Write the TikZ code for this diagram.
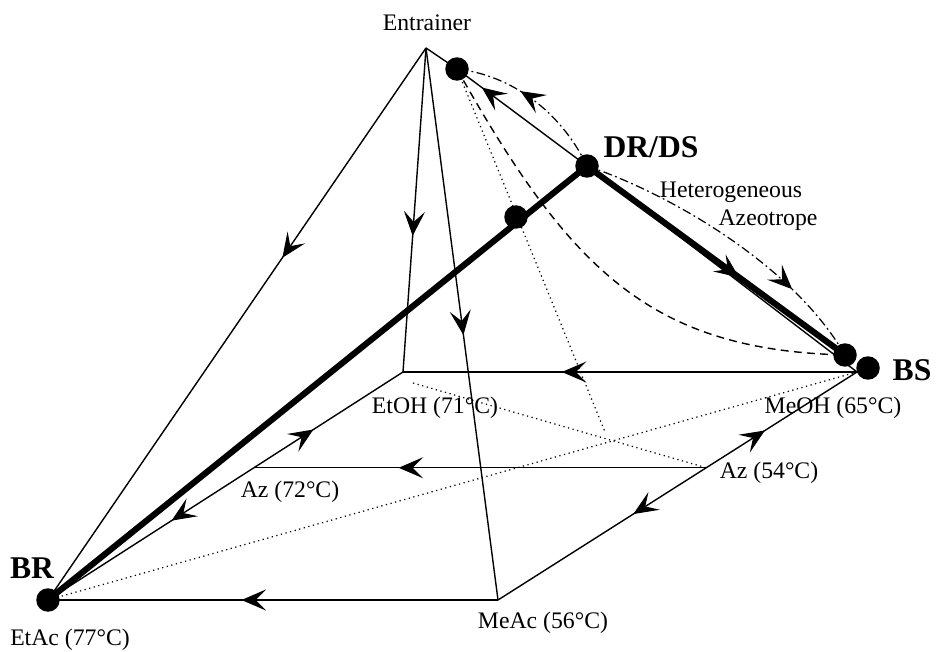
\documentclass[tikz,border=0pt]{standalone}
\usepackage{fontspec}
\setmainfont{Liberation Serif}
\usetikzlibrary{arrows.meta, calc, decorations.markings}

\begin{document}
\begin{tikzpicture}[
  x=0.02cm, y=-0.02cm,
  edge/.style={line width=0.8pt},
  tieline/.style={line width=3.5pt},
  dot/.style={circle, fill=black, inner sep=0pt, minimum size=0.47cm},
  note/.style={font=\fontsize{13.5}{15}\selectfont, inner sep=0pt},
  bigtag/.style={font=\fontsize{18}{20}\selectfont\bfseries, inner sep=0pt},
  midarrow/.style={postaction={decorate}, decoration={markings,
      mark=at position #1 with {\arrow{Stealth[length=14pt, width=12pt, inset=6pt, line width=0.6pt]}}}},
  boundary/.style={line width=0.8pt, dash pattern=on 4.5pt off 3pt},
  envelope/.style={line width=0.7pt, dash pattern=on 5pt off 2pt on 1pt off 2pt},
  ruled/.style={line width=0.7pt, dotted},
]
\useasboundingbox (0,0) rectangle (937,652);

% Corners of the pyramid
\coordinate (E) at (426,48);
\coordinate (EtAc) at (48,600);
\coordinate (MeAc) at (498,600);
\coordinate (MeOH) at (857,372);
\coordinate (EtOH) at (403,372);
\coordinate (Az72) at ($(EtAc)!0.58!(EtOH)$);
\coordinate (Az54) at ($(MeAc)!0.58!(MeOH)$);

% Points on the column profile
\coordinate (D1) at (457,69);
\coordinate (DRDS) at (587,166);
\coordinate (Mid) at (516,217);
\coordinate (D2) at (845,355);
\coordinate (BS) at (868,368);
\coordinate (Tip) at (605,432);
\coordinate (Dot0) at (413,383);

% Edges from the entrainer
\draw[edge, midarrow=0.38] (E) -- (EtAc);
\draw[edge, midarrow=0.58] (E) -- (EtOH);
\draw[edge, midarrow=0.52] (E) -- (MeAc);
\draw[edge] (E) -- (D1);
\draw[edge, midarrow=0.81] (DRDS) -- (D1);
\draw[edge] (DRDS) -- (MeOH);

% Base
\draw[edge, midarrow=0.57] (MeAc) -- (EtAc);
\draw[edge, midarrow=0.65] (MeOH) -- (EtOH);
\draw[edge, midarrow=0.68] (Az54) -- (Az72);
\draw[edge, midarrow=0.4] (Az72) -- (EtOH);
\draw[edge, midarrow=0.4] (Az72) -- (EtAc);
\draw[edge, midarrow=0.39] (Az54) -- (MeOH);
\draw[edge, midarrow=0.35] (Az54) -- (MeAc);

% Dotted lines
\draw[ruled] (EtAc) -- (MeOH);
\draw[ruled] (Dot0) -- (Az54);
\draw[ruled] (D1) -- (Tip);

% Distillation boundary
\draw[boundary] (D1) .. controls (570,270) and (650,350) .. (D2);

% Liquid-liquid envelope
\draw[envelope, midarrow=0.6] (DRDS) .. controls (560,110) and (510,75) .. (D1);
\draw[envelope, midarrow=0.74] (DRDS) .. controls (660,190) and (790,260) .. (D2);

% Column profile
\draw[tieline] (EtAc) -- (DRDS);
\draw[tieline, midarrow=0.59] (DRDS) -- (D2);

% Dots
\node[dot] (br) at (EtAc) {};
\node[dot] (d1) at (D1) {};
\node[dot] (drds) at (DRDS) {};
\node[dot] (mid) at (Mid) {};
\node[dot] (d2) at (D2) {};
\node[dot] (bs) at (BS) {};

% Labels
\node[note] (entr) at (427,23) {Entrainer};
\node[bigtag] (drdstag) at (651,147) {DR/DS};
\node[note] (het) at (731,192) {Heterogeneous};
\node[note] (azeo) at (768,220) {Azeotrope};
\node[bigtag] (bstag) at (912,370) {BS};
\node[bigtag] (brtag) at (32,568) {BR};
\node[note] (etoh) at (435,408) {EtOH (71°C)};
\node[note] (meoh) at (833,408) {MeOH (65°C)};
\node[note] (az72) at (290,492) {Az (72°C)};
\node[note] (az54) at (769,473) {Az (54°C)};
\node[note] (meac) at (543,623) {MeAc (56°C)};
\node[note] (etac) at (70,640) {EtAc (77°C)};

\end{tikzpicture}
\end{document}
